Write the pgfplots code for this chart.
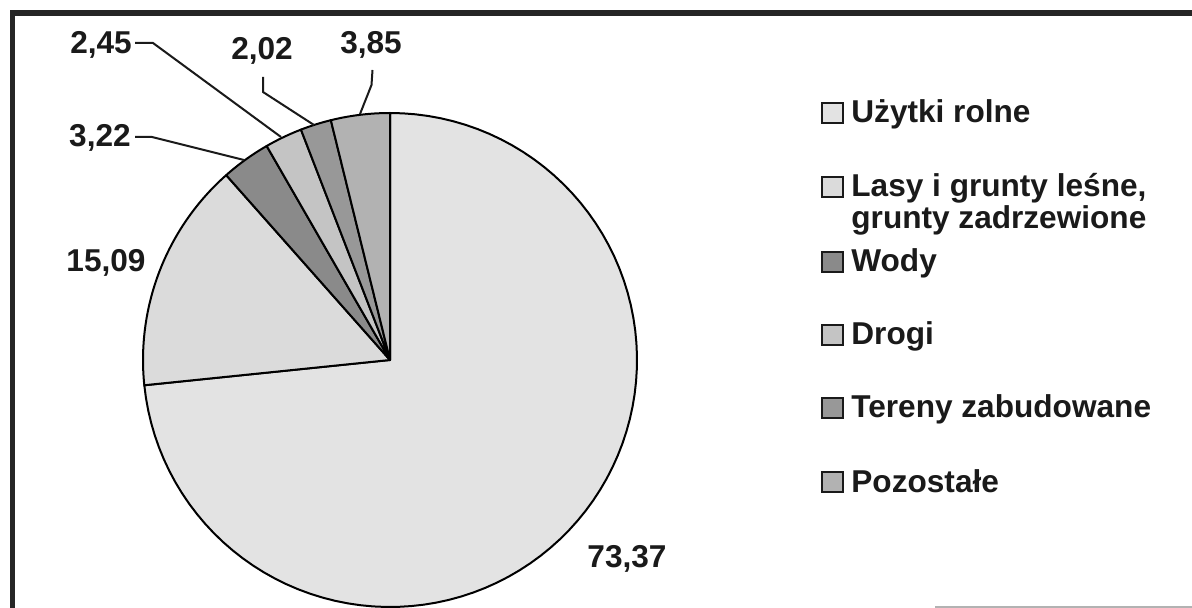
\documentclass[border=0pt]{standalone}
\usepackage{fontspec}
\setmainfont{Liberation Sans}
\usepackage{pgfplots}
\pgfplotsset{compat=1.18}
\definecolor{cUz}{HTML}{E3E3E3}
\definecolor{cLa}{HTML}{DBDBDB}
\definecolor{cWo}{HTML}{8A8A8A}
\definecolor{cDr}{HTML}{C4C4C4}
\definecolor{cTe}{HTML}{989898}
\definecolor{cPo}{HTML}{B2B2B2}
\definecolor{ink}{HTML}{1A1A1A}
% values (percent) / colour, clockwise from 12 o'clock
\def\slices{73.37/cUz,15.09/cLa,3.22/cWo,2.45/cDr,2.02/cTe,3.85/cPo}
\newcommand\lbl{\bfseries\fontsize{15.8}{19}\selectfont}
\begin{document}
\begin{tikzpicture}
\begin{axis}[width=596pt, height=304pt, scale only axis,
  xmin=0, xmax=1192, ymin=0, ymax=608, y dir=reverse,
  hide axis, no marks, clip=true]
\fill[white] (axis cs:0,0) rectangle (axis cs:1192,608);
\gdef\cum{0}
\foreach \v/\c in \slices {
  \pgfmathsetmacro\a{\cum*3.6}
  \pgfmathsetmacro\b{(\cum+\v)*3.6}
  \edef\temp{\noexpand\addplot[fill=\c, draw=black, line width=1pt, line join=round,
     domain=\a:\b, samples=90, variable=\noexpand\t]
     ({390+247*sin(\noexpand\t)},{360-247*cos(\noexpand\t)}) -- (axis cs:390,360) -- cycle;}
  \temp
  \pgfmathsetmacro\cumnew{\cum+\v}
  \xdef\cum{\cumnew}
}
% frame (scanned, cut at right and bottom)
\draw[line width=2.8pt, color=black!85] (axis cs:12.5,608) -- (axis cs:12.5,13) -- (axis cs:1192,13);
\draw[line width=0.8pt, color=black!30] (axis cs:935,607) -- (axis cs:1192,607);
% value labels with leader lines
\begin{scope}[line width=1pt, color=ink]
\draw (axis cs:135,43) -- (axis cs:153,43) -- (axis cs:281,137);
\draw (axis cs:263,77) -- (axis cs:263,92) -- (axis cs:314,125);
\draw (axis cs:372.5,70) -- (axis cs:371.5,85) -- (axis cs:360,114);
\draw (axis cs:135,137) -- (axis cs:152,137) -- (axis cs:244,160);
\end{scope}
\node[anchor=base, inner sep=0pt, font=\lbl, text=ink] at (axis cs:101,54) {2,45};
\node[anchor=base, inner sep=0pt, font=\lbl, text=ink] at (axis cs:262,60) {2,02};
\node[anchor=base, inner sep=0pt, font=\lbl, text=ink] at (axis cs:371,54) {3,85};
\node[anchor=base, inner sep=0pt, font=\lbl, text=ink] at (axis cs:100,147) {3,22};
\node[anchor=base, inner sep=0pt, font=\lbl, text=ink] at (axis cs:106,272) {15,09};
\node[anchor=base, inner sep=0pt, font=\lbl, text=ink] at (axis cs:627,567) {73,37};
% legend
\begin{scope}[line width=1pt, draw=ink]
\draw[fill=cUz] (axis cs:822,103) rectangle (axis cs:843,123);
\draw[fill=cLa] (axis cs:822,177) rectangle (axis cs:843,197);
\draw[fill=cWo] (axis cs:822,252) rectangle (axis cs:843,272);
\draw[fill=cDr] (axis cs:822,325) rectangle (axis cs:843,345);
\draw[fill=cTe] (axis cs:822,398) rectangle (axis cs:843,418);
\draw[fill=cPo] (axis cs:822,472) rectangle (axis cs:843,492);
\end{scope}
\node[anchor=base west, inner sep=0pt, font=\lbl, text=ink] at (axis cs:851,123) {Użytki rolne};
\node[anchor=base west, inner sep=0pt, font=\lbl, text=ink] at (axis cs:851,197) {Lasy i grunty leśne,};
\node[anchor=base west, inner sep=0pt, font=\lbl, text=ink] at (axis cs:851,229) {grunty zadrzewione};
\node[anchor=base west, inner sep=0pt, font=\lbl, text=ink] at (axis cs:851,272) {Wody};
\node[anchor=base west, inner sep=0pt, font=\lbl, text=ink] at (axis cs:851,345) {Drogi};
\node[anchor=base west, inner sep=0pt, font=\lbl, text=ink] at (axis cs:851,418) {Tereny zabudowane};
\node[anchor=base west, inner sep=0pt, font=\lbl, text=ink] at (axis cs:851,492) {Pozostałe};
\end{axis}
\end{tikzpicture}
\end{document}
